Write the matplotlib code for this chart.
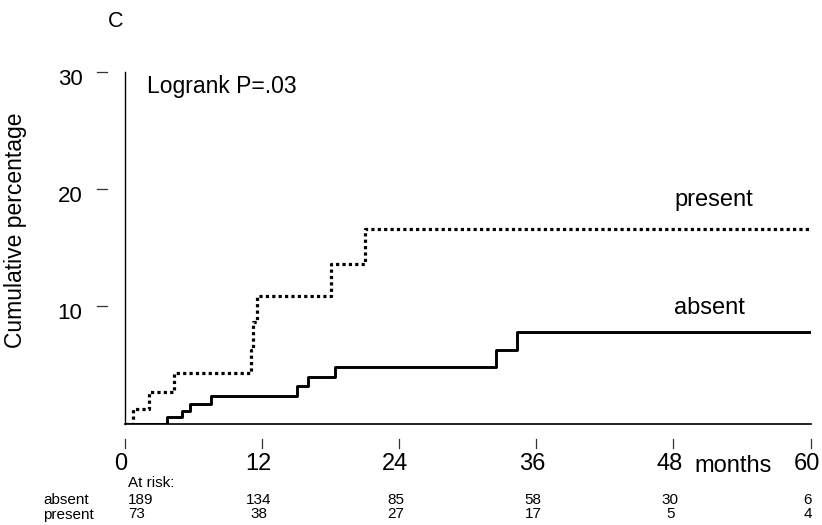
import matplotlib
matplotlib.use('Agg')

import matplotlib.pyplot as plt
import matplotlib.transforms as mtransforms

# step points (months, cumulative %)
absent_months = [0, 3.7, 5.0, 5.7, 7.55, 15.1, 16.05, 18.4, 32.45, 34.3, 60]
absent_pct = [0, 0.54, 1.1, 1.68, 2.37, 3.16, 3.96, 4.8, 6.3, 7.78, 7.78]

present_months = [0, 0.77, 2.15, 4.3, 11.1, 11.25, 11.55, 18.1, 21.0, 60]
present_pct = [0, 1.25, 2.68, 4.33, 6.3, 8.66, 10.85, 13.65, 16.6, 16.6]

x_ticks = [0, 12, 24, 36, 48, 60]
y_ticks = [10, 20, 30]

risk_groups = ['absent', 'present']
risk_absent = [189, 134, 85, 58, 30, 6]
risk_present = [73, 38, 27, 17, 5, 4]

FONT = 'Liberation Sans'
W, H = 822, 525

fig = plt.figure(figsize=(W / 100, H / 100), dpi=100)
ax = fig.add_axes([124.5 / W, 1 - 423.5 / H, 686 / W, 351.5 / H])
ax.set_xlim(0, 60)
ax.set_ylim(0, 30)

ax.step(absent_months, absent_pct, where='post', color='black', lw=2.1, solid_capstyle='butt')
ax.step(present_months, present_pct, where='post', color='black', lw=2.3,
        linestyle=(0, (1, 1)), dash_capstyle='butt')

for side in ['top', 'right']:
    ax.spines[side].set_visible(False)
ax.spines['left'].set_linewidth(1.0)
ax.spines['bottom'].set_linewidth(1.2)
ax.set_xticks([])
ax.set_yticks([])

# detached tick marks + labels
ytr = ax.get_yaxis_transform()
xtr = ax.get_xaxis_transform()
px_x = 1 / 686
px_y = 1 / 351.5
for v in y_ticks:
    ax.plot([-27.5 * px_x, -17.5 * px_x], [v, v], color='#333333', lw=0.9,
            transform=ytr, clip_on=False)
    ax.text(-42 * px_x, v - 13 / 11.73, str(v), transform=ytr, ha='right', va='baseline',
            fontsize=16, family=FONT)
for v in x_ticks:
    ax.plot([v, v], [-15 * px_y, -24.5 * px_y], color='#333333', lw=0.9,
            transform=xtr, clip_on=False)
    ax.text(v - 0.32, -47 * px_y, str(v), transform=xtr, ha='center', va='baseline',
            fontsize=17, family=FONT)
ax.text(49.85, -48.5 * px_y, 'months', transform=xtr, ha='left', va='baseline',
        fontsize=17, family=FONT)

ax.text(1.97, 28.24, 'Logrank P=.03', ha='left', va='baseline', fontsize=16.5, family=FONT)
ax.text(48.1, 18.55, 'present', ha='left', va='baseline', fontsize=17, family=FONT)
ax.text(48.1, 9.35, 'absent', ha='left', va='baseline', fontsize=17, family=FONT)

fig.text(116 / W, 1 - 27 / H, 'C', ha='center', va='baseline', fontsize=15.5, family=FONT)
fig.text(16 / W, 1 - 230.5 / H, 'Cumulative percentage', rotation=90, ha='center',
         va='center', fontsize=16.5, family=FONT)

# numbers at risk
rtr = mtransforms.blended_transform_factory(ax.transData, fig.transFigure)
fig.text(128 / W, 1 - 487 / H, 'At risk:', ha='left', va='baseline', fontsize=11, family=FONT)
for row, (name, counts) in enumerate(zip(risk_groups, [risk_absent, risk_present])):
    base = 1 - (503.5 + 15 * row) / H
    fig.text(43 / W, base, name, ha='left', va='baseline', fontsize=11, family=FONT)
    for i, n in enumerate(counts):
        if i == 0:
            fig.text(128 / W, base, str(n), ha='left', va='baseline', fontsize=11, family=FONT)
        else:
            ax.text(x_ticks[i] - 0.25, base, str(n), transform=rtr, ha='center', va='baseline',
                    fontsize=11, family=FONT)

fig.savefig('out.png', dpi=100)
